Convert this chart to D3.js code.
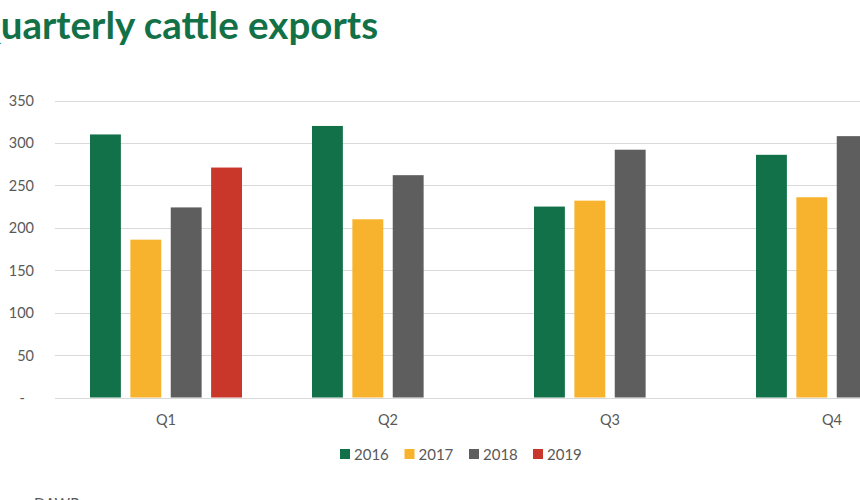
<!DOCTYPE html>
<html>
<head>
<meta charset="utf-8">
<script src="https://cdn.jsdelivr.net/npm/d3@7"></script>
<style>
  html, body { margin: 0; padding: 0; background: #fff; overflow: hidden; }
  svg { display: block; }
</style>
</head>
<body>
<svg id="chart" width="860" height="500"></svg>
<script>
const titleText = "Quarterly cattle exports";
const sourceText = "DAWR";
const quarters = ["Q1", "Q2", "Q3", "Q4"];
const years = ["2016", "2017", "2018", "2019"];
const v2016 = [310, 320, 225, 286];
const v2017 = [186, 210, 232, 236];
const v2018 = [224, 262, 292, 308];
const v2019 = [271, null, null, null];
const yTicks = [0, 50, 100, 150, 200, 250, 300, 350];
const colors = ["#13714A", "#F7B32D", "#5E5E5E", "#C9362A"];

const series = [v2016, v2017, v2018, v2019];
const data = quarters.map((q, i) => ({
  q, vals: years.map((y, j) => ({ year: y, value: series[j][i] }))
}));

const svg = d3.select("#chart");
const font = "Lato, 'Open Sans', sans-serif";
const grey = "#595959";

const y = d3.scaleLinear().domain([0, 350]).range([397.5, 100.5]);
const x0 = d3.scaleBand().domain(quarters).range([55, 943]).padding(0);
const x1 = d3.scaleBand().domain(years).range([35, 187]).paddingInner(0.235).paddingOuter(0);
const color = d3.scaleOrdinal().domain(years).range(colors);

// Title (first letter cut off at the left edge as in reference)
const titleSize = 38.5;
const title = svg.append("text")
  .attr("font-family", font).attr("font-weight", 700).attr("font-size", titleSize)
  .attr("fill", "#137148").attr("y", 39).text(titleText);
const tmp = svg.append("text").attr("font-family", font).attr("font-weight", 700)
  .attr("font-size", titleSize).text("Q");
const wQ = tmp.node().getComputedTextLength();
tmp.remove();
title.attr("x", -wQ + 1);

// Gridlines
svg.append("g").selectAll("line").data(yTicks).join("line")
  .attr("x1", 55).attr("x2", 860)
  .attr("y1", d => Math.round(y(d)) + 0.5).attr("y2", d => Math.round(y(d)) + 0.5)
  .attr("stroke", "#d9d9d9").attr("stroke-width", 1);

// Y axis labels
const yAxis = d3.axisLeft(y).tickValues(yTicks).tickSize(0)
  .tickFormat(d => d === 0 ? "-" : d);
const yg = svg.append("g").attr("transform", "translate(34,0)").call(yAxis);
yg.select(".domain").remove();
yg.selectAll("text").attr("font-family", font).attr("font-size", 14.5)
  .attr("fill", grey).attr("x", d => d === 0 ? -9 : 0).attr("dy", "0.34em");

// Bars
const groups = svg.append("g").selectAll("g").data(data).join("g")
  .attr("transform", d => `translate(${x0(d.q)},0)`);
groups.selectAll("rect").data(d => d.vals.filter(v => v.value != null)).join("rect")
  .attr("x", d => x1(d.year)).attr("width", x1.bandwidth())
  .attr("y", d => y(d.value)).attr("height", d => y(0) - y(d.value))
  .attr("fill", d => color(d.year));

// X axis labels
const xAxis = d3.axisBottom(x0).tickSize(0);
const xg = svg.append("g").attr("transform", "translate(0,397.5)").call(xAxis);
xg.select(".domain").remove();
xg.selectAll("text").attr("font-family", font).attr("font-size", 14.5)
  .attr("fill", grey).attr("y", 0).attr("dy", "27");
xg.selectAll(".tick").attr("transform", d => `translate(${x0(d) + 35 + 76},0)`);

// Legend
const legendX = [340, 404.5, 469, 533];
const lg = svg.append("g").selectAll("g").data(years).join("g")
  .attr("transform", (d, i) => `translate(${legendX[i]},449)`);
lg.append("rect").attr("width", 10).attr("height", 10).attr("fill", d => color(d));
lg.append("text").attr("x", 14).attr("y", 10.5).attr("font-family", font)
  .attr("font-size", 15).attr("fill", grey).text(d => d);

// Source (mostly cut off at bottom, as in reference)
svg.append("text").attr("x", 34).attr("y", 509).attr("font-family", font)
  .attr("font-size", 15).attr("fill", grey).text(sourceText);
</script>
</body>
</html>
